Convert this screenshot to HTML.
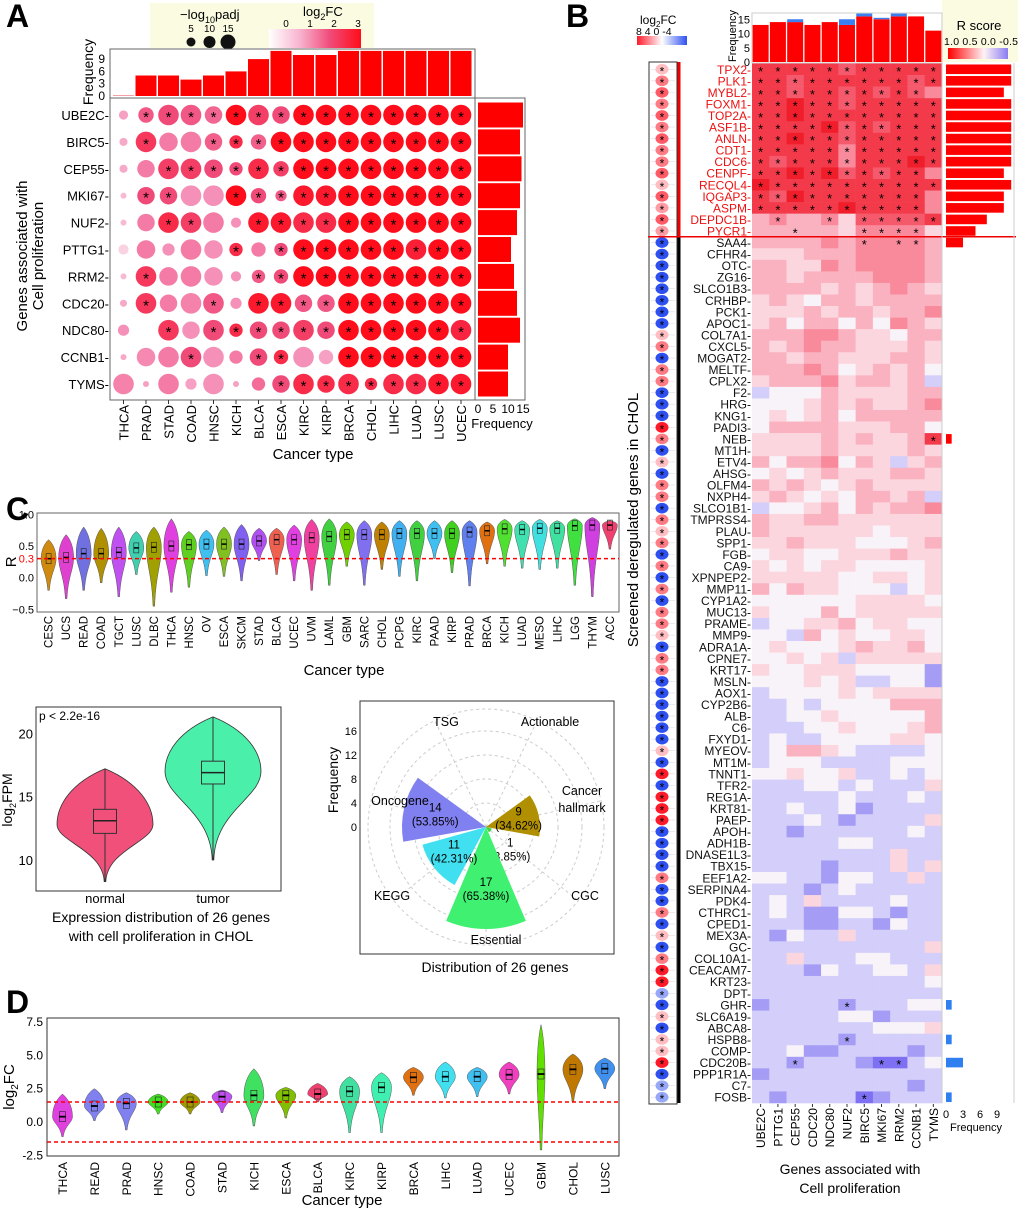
<!DOCTYPE html>
<html><head><meta charset="utf-8">
<style>
html,body{margin:0;padding:0;background:#fff;}
svg{display:block;font-family:"Liberation Sans",Arial,sans-serif;}
</style></head>
<body>
<svg id="fig" width="1020" height="1212" viewBox="0 0 1020 1212" xmlns="http://www.w3.org/2000/svg">
<text x="6" y="27" font-size="32" font-weight="bold">A</text>
<text x="566" y="27" font-size="32" font-weight="bold">B</text>
<text x="6" y="520" font-size="32" font-weight="bold">C</text>
<text x="6" y="1013" font-size="32" font-weight="bold">D</text>
</svg>
<script>
// ---------- Panel A data ----------
const catsA = ["THCA","PRAD","STAD","COAD","HNSC","KICH","BLCA","ESCA","KIRC","KIRP","BRCA","CHOL","LIHC","LUAD","LUSC","UCEC"];
const genesA = ["UBE2C","BIRC5","CEP55","MKI67","NUF2","PTTG1","RRM2","CDC20","NDC80","CCNB1","TYMS"];
const topFreqA = [0,5,5,4,5,6,9,11,10,10,11,11,11,11,11,11];
const rightFreqA = [15,14,14.5,14,13,11,12,13,14,10,10];
const sigA = [
 [4,10,15,15,12,15,15,12,15,15,15,15,15,15,15,15],
 [3,15,13,15,12,8,10,15,15,15,15,15,15,15,15,15],
 [3,12,15,15,13,8,15,10,15,15,15,15,15,15,15,15],
 [1,12,12,15,15,15,10,6,15,15,15,15,15,15,15,15],
 [1,12,15,15,15,5,15,15,15,15,15,15,15,15,15,15],
 [5,13,7,15,13,8,9,8,15,15,15,15,15,15,15,15],
 [1,15,13,15,13,5,8,9,15,15,15,15,15,15,15,15],
 [2,15,12,15,15,6,15,15,12,12,15,15,15,15,15,15],
 [6,0,15,12,15,8,12,12,15,12,15,15,15,15,15,15],
 [1,13,15,15,15,8,12,9,15,9,15,15,15,15,15,15],
 [15,1,15,6,15,1,8,12,15,12,15,7,15,15,15,15]];
const fcA = [
 [0.8,1.8,2,1.8,1.6,3,2.2,2,3,3,3,3,3,3,3,3],
 [0.7,2.3,1.3,1.3,1.7,2.5,1.7,3,3,3,3,3,3,3,3,3],
 [0.7,1.3,2.2,2.2,2,2,2.5,2.2,3,3,3,3,3,3,3,3],
 [0.5,2,2,1,1,3.2,2,1.8,2.8,2.8,3,3,3,3,3,3],
 [0.5,1.3,2.5,2.2,1.3,1,2.8,2.8,2.5,2.5,3,3,3,3,3,3],
 [0.2,1.3,1,1.3,1,2.5,1.3,2,3,3,3,3,3,2.7,3,3],
 [0.5,2.3,1.3,1.3,1,1,1.8,2,3,3,3,3,3,3,3,3],
 [0.7,2.3,1.3,1.2,1.8,1,2.8,2.8,1.8,1.8,3,3,3,3,3,3],
 [1,0,2.3,1,2,2.5,2,2,2.2,2,3,3,3,3,3,2.6],
 [0.7,1.1,1.3,2,1,1.3,2,2.5,1,0.8,3,3,3,3,3,3],
 [1.2,0.8,1.3,0.8,1,0.8,1.5,2,2.5,2.5,2.5,2.5,2.5,2.5,2.8,2.8]];
const starA = [
 ".***************",".*..************","..**************",".**..***********",
 "..**..**********",".....*.*********",".*....**********",".*..*.**********",
 "..*.************","...*..**..******",".......*********"];

// ---------- Panel B data ----------
const colsB = ["UBE2C","PTTG1","CEP55","CDC20","NDC80","NUF2","BIRC5","MKI67","RRM2","CCNB1","TYMS"];
const topRedB = [13,14,14,13,14,13,16,15,16,16,11];
const topBlueB = [0,0,1,0,0,2,1,0.5,1,0,0];
const genesB = ["TPX2","PLK1","MYBL2","FOXM1","TOP2A","ASF1B","ANLN","CDT1","CDC6","CENPF","RECQL4","IQGAP3","ASPM","DEPDC1B","PYCR1",
"SAA4","CFHR4","OTC","ZG16","SLCO1B3","CRHBP","PCK1","APOC1","COL7A1","CXCL5","MOGAT2","MELTF","CPLX2","F2","HRG","KNG1","PADI3","NEB","MT1H","ETV4","AHSG","OLFM4","NXPH4","SLCO1B1","TMPRSS4","PLAU","SPP1","FGB","CA9","XPNPEP2","MMP11","CYP1A2","MUC13","PRAME","MMP9","ADRA1A","CPNE7","KRT17","MSLN","AOX1","CYP2B6","ALB","C6","FXYD1","MYEOV","MT1M","TNNT1","TFR2","REG1A","KRT81","PAEP","APOH","ADH1B","DNASE1L3","TBX15","EEF1A2","SERPINA4","PDK4","CTHRC1","CPED1","MEX3A","GC","COL10A1","CEACAM7","KRT23","DPT","GHR","SLC6A19","ABCA8","HSPB8","COMP","CDC20B","PPP1R1A","C7","FOSB"];
const fcB = [2,4,5,4,5,4,5,4,4,5,2,5,3,5,3,
-4,-4,-4,-4,-4,-4,-4,-4,2,4,-4,4,4,-4,-4,-4,7,4,-4,2,-4,4,4,-4,4,2,4,-4,4,-4,4,-4,4,4,2,-4,4,4,-4,-4,-4,-4,-4,-4,2,-4,7,-4,7,7,7,-4,-4,-4,-4,4,-4,-4,4,-4,2,-4,4,7,7,-2,-4,2,-4,2,2,7,-4,-2,-2];
const heatB = ["88888788888","88788888878","88788787876","88988788888","88988888888","88889787888","88988788888","88888688888","87888688898","88989787886","98888888888","87988888886","88888988886","56556477778","55555466664",
"55556566665","44455566665","55446566665","55455556665","55554545654","45435545555","44454554556","45355353654","55566544355","54565544454","55455444554","55565345453","45556455452","23335444455","33345454456","34345355555","35555444553","44445454458","44445444454","53556354245","34345444554","54543454444","45434355452","23345354556","54455444444","54444443444","44544433345","34433444544","43434433334","44444334434","53544333234","33333344443","43335344444","23344534433","33253433443","34333454453","33434244444","43344433331","33343422331","23333434444","22323333555","22334333335","22233433345","23223333443","23554322223","23332222333","33433422323","22233232224","22222322232","22322312222","22232122224","22122222232","22222332222","22222222422","22221222424","33221332242","22212322222","23242222322","23211332122","22211221322","21322422222","22222222224","22422233222","22213223324","22222222223","22222222222","12222122233","22222331222","22222223334","22222122222","22311222212","22122210023","12222222222","22222222212","21222201222"];
const starB = {"TPX2":"***********","PLK1":"***********","MYBL2":"**********.","FOXM1":"***********","TOP2A":"***********","ASF1B":"***********","ANLN":"***********","CDT1":"***********","CDC6":"***********","CENPF":"**********.","RECQL4":"***********","IQGAP3":"**********.","ASPM":"**********.","DEPDC1B":".*..*.*****","PYCR1":"..*...****.","SAA4":"......*.**.","NEB":"..........*","GHR":".....*.....","HSPB8":".....*.....","CDC20B":"..*....**..","FOSB":"......*...."};
const rBarGenes = ["TPX2","PLK1","MYBL2","FOXM1","TOP2A","ASF1B","ANLN","CDT1","CDC6","CENPF","RECQL4","IQGAP3","ASPM","DEPDC1B","PYCR1","SAA4","NEB","GHR","HSPB8","CDC20B","FOSB"];
const rBarVals = [11.5,11.5,10.2,11.5,11.5,11.5,11.5,11.5,11.5,10.2,11.5,10.2,10.2,7.2,5.2,3,1,1,1,3,1];
const rBarNeg = [0,0,0,0,0,0,0,0,0,0,0,0,0,0,0,0,0,1,1,1,1];

// ---------- Panel C data ----------
const catsC = ["CESC","UCS","READ","COAD","TGCT","LUSC","DLBC","THCA","HNSC","OV","ESCA","SKCM","STAD","BLCA","UCEC","UVM","LAML","GBM","SARC","CHOL","PCPG","KIRC","PAAD","KIRP","PRAD","BRCA","KICH","LUAD","MESO","LIHC","LGG","THYM","ACC"];
const medC = [0.3,0.32,0.38,0.38,0.4,0.47,0.48,0.5,0.52,0.53,0.53,0.53,0.58,0.6,0.6,0.63,0.65,0.68,0.68,0.68,0.7,0.7,0.7,0.7,0.72,0.74,0.77,0.76,0.78,0.78,0.82,0.83,0.83];
const maxC = [0.6,0.68,0.8,0.78,0.8,0.73,0.8,0.93,0.73,0.75,0.8,0.84,0.78,0.78,0.83,0.92,0.93,0.88,0.9,0.88,0.9,0.9,0.9,0.9,0.9,0.88,0.92,0.9,0.92,0.9,0.93,0.95,0.9];
const minC = [-0.2,-0.33,-0.2,-0.08,-0.3,0.05,-0.45,-0.23,-0.15,0.03,0.02,-0.05,0.27,0.05,-0.05,-0.2,-0.12,0.18,-0.12,0.13,0.02,-0.05,0.3,0.08,-0.13,0.22,0.18,0.15,0.13,0.15,-0.12,-0.3,0.45];
const colC = ["#d08a10","#e040d0","#7070e0","#b09000","#c050f0","#40d0b0","#a0a000","#e040e0","#60d020","#40c0f0","#80c020","#8060f0","#b050f0","#f06050","#e040e0","#f040a0","#40d040","#70d000","#8070f0","#c08000","#40b0f0","#40d040","#40c0f0","#40d020","#6080f0","#e07010","#50e030","#40e0b0","#40e0e0","#40e0a0","#40e040","#d040e0","#f04070"];
const ticksC = [1.0,0.5,0.0,-0.5];
// expression violin
const groupsE = ["normal","tumor"];
const medE = [13.1,16.9], q1E=[12.1,16.0], q3E=[14.0,17.8], minE=[8.3,10.0], maxE=[17.2,21.3], modeE=[12.8,17.0];
const ticksE = [10,15,20];
// polar
const polarCats = ["Actionable","Cancer hallmark","CGC","Essential","KEGG","Oncogene","TSG"];
const polarVals = [0,9,1,17,11,14,0];
const polarPct = ["","34.62%","3.85%","65.38%","42.31%","53.85%",""];
const polarCol = ["#888","#b09000","#40d040","#40f070","#40e0f0","#8080f0","#888"];
const polarTicks = [0,4,8,12,16];

// ---------- Panel D data ----------
const catsD = ["THCA","READ","PRAD","HNSC","COAD","STAD","KICH","ESCA","BLCA","KIRC","KIRP","BRCA","LIHC","LUAD","UCEC","GBM","CHOL","LUSC"];
const medD = [0.4,1.2,1.4,1.5,1.5,1.9,2.0,2.0,2.1,2.3,2.6,3.35,3.4,3.4,3.55,3.6,3.95,4.0];
const minD = [-1.1,0.1,-0.6,0.6,0.6,0.7,-0.3,0.3,1.5,-0.8,-0.8,2.0,1.8,1.9,2.1,-2.1,1.5,2.5];
const maxD = [2.1,2.5,2.2,2.1,2.2,2.4,4.0,2.6,2.9,3.4,3.7,4.1,4.5,4.1,4.5,7.3,5.1,4.8];
const colD = ["#e040e0","#8080f0","#8080f0","#40e020","#a09a00","#c050f0","#40e060","#80c000","#f04070","#40e0a0","#40f0b0","#e07010","#40e0f0","#40c0f0","#f040c0","#60e000","#c07800","#4090f0"];
const ticksD = [7.5,5.0,2.5,0.0,-2.5];

// ---------- helpers ----------
const NS="http://www.w3.org/2000/svg";
const svg=document.getElementById('fig');
function mk(tag, attrs, parent){const e=document.createElementNS(NS,tag);for(const k in attrs)e.setAttribute(k,attrs[k]);(parent||svg).appendChild(e);return e;}
function txt(s, attrs, parent){const e=mk('text',attrs,parent);e.textContent=s;return e;}
function hex(c){return [parseInt(c.slice(1,3),16),parseInt(c.slice(3,5),16),parseInt(c.slice(5,7),16)];}
function lerpC(a,b,t){const A=hex(a),B=hex(b);return 'rgb('+A.map((v,i)=>Math.round(v+(B[i]-v)*t)).join(',')+')';}
function fcColA(v){const st=['#fbe4ee','#f590b8','#f04a78','#ff0d1a'];v=Math.max(0,Math.min(3,v));const i=Math.min(2,Math.floor(v));return lerpC(st[i],st[i+1],v-i);}
const heatPal=['#7d70f2','#a59cf5','#d3cefa','#f8f3f8','#fcd6de','#fab2c0','#f88a9c','#f55a6c','#f33a4a','#f01e2a'];
function fcColB(v){if(v>=0){return lerpC('#ffffff','#ff1a2a',Math.min(1,v/7));}return lerpC('#ffffff','#2f50f0',Math.min(1,-v/4));}
function violinPath(cx,t,m,b,hw){
 return `M${cx},${t} C${cx+hw*0.7},${t+(m-t)*0.25} ${cx+hw},${m-(m-t)*0.35} ${cx+hw},${m} C${cx+hw},${m+(b-m)*0.3} ${cx+2},${m+(b-m)*0.45} ${cx+0.8},${b} L${cx-0.8},${b} C${cx-2},${m+(b-m)*0.45} ${cx-hw},${m+(b-m)*0.3} ${cx-hw},${m} C${cx-hw},${m-(m-t)*0.35} ${cx-hw*0.7},${t+(m-t)*0.25} ${cx},${t} Z`;
}

// ================= PANEL A =================
const axA={x0:110,x1:475,y0:98,y1:400};
function xA(i){return 123.5+i*22.5;}
function yA(j){return 115+j*26.9;}
function yTopA(v){return 96-v*4.1;}
function xRightA(v){return 478+v*3;}
let e;
e=mk('rect',{x:150,y:3,width:224,height:45,fill:'#fafbe0'});


e=txt('−log',{x:180,y:19,'font-size':13});


mk('tspan',{'font-size':9,dy:4},e).textContent='10';
mk('tspan',{'font-size':13,dy:-4},e).textContent='padj';
[5,10,15].forEach((v,k)=>{
 const cx=191+k*18.5;
 e=txt(String(v),{x:cx,y:32,'font-size':10,'text-anchor':'middle'});
 
 
 e=mk('circle',{cx:cx,cy:42,r:3+v*0.3,fill:'#111'});
 
 
});
e=txt('log',{x:303,y:16,'font-size':13});


mk('tspan',{'font-size':9,dy:4},e).textContent='2';
mk('tspan',{'font-size':13,dy:-4},e).textContent='FC';
const defs=mk('defs',{});
let g=mk('linearGradient',{id:'gA',x1:0,x2:1,y1:0,y2:0},defs);
['#ffffff','#f8b4cf','#f04a78','#ff0d1a'].forEach((c,k)=>mk('stop',{offset:k/3,'stop-color':c},g));
e=mk('rect',{x:269,y:29,width:92,height:19,fill:'url(#gA)'});


[0,1,2,3].forEach(v=>{e=txt(String(v),{x:286+v*24,y:27,'font-size':10,'text-anchor':'middle'});
 
 });
e=mk('rect',{x:axA.x0,y:49,width:axA.x1-axA.x0,height:49,fill:'none',stroke:'#666'});


topFreqA.forEach((v,i)=>{
 const h=Math.max(1,96-yTopA(v));
 e=mk('rect',{x:xA(i)-10.5,y:96-h,width:21,height:h,fill:v>0?'#ff0000':'#f6a0a8'});
 
 
});
[0,3,6,9].forEach(v=>{e=txt(String(v),{x:105,y:yTopA(v)+4,'font-size':12,'text-anchor':'end'});
 
 });
e=txt('Frequency',{x:0,y:0,'font-size':14,'text-anchor':'middle',transform:'translate(93,72) rotate(-90)'});


e=mk('rect',{x:axA.x0,y:axA.y0,width:axA.x1-axA.x0,height:axA.y1-axA.y0,fill:'#fff',stroke:'#666'});


genesA.forEach((gname,j)=>{
 e=txt(gname+'-',{x:axA.x0-1,y:yA(j)+5,'font-size':13,'text-anchor':'end'});
 
 
 catsA.forEach((c,i)=>{
  const s=sigA[j][i]; if(s<=0) return;
  e=mk('circle',{cx:xA(i),cy:yA(j),r:2.5+s*0.52,fill:fcColA(fcA[j][i])});
  
  
  if(starA[j][i]==='*'){e=txt('*',{x:xA(i),y:yA(j)+7,'font-size':15,'text-anchor':'middle'});
   
   }
 });
});
catsA.forEach((c,i)=>{
 e=txt(c,{x:0,y:0,'font-size':13,'text-anchor':'end',transform:`translate(${xA(i)+5},405) rotate(-90)`});
 
 
 mk('line',{x1:xA(i),x2:xA(i),y1:400,y2:404,stroke:'#333'});
});
e=txt('Cancer type',{x:313,y:459,'font-size':15,'text-anchor':'middle'});


e=txt('Genes associated with',{x:0,y:0,'font-size':15,'text-anchor':'middle',transform:'translate(27,256) rotate(-90)'});


e=txt('Cell proliferation',{x:0,y:0,'font-size':15,'text-anchor':'middle',transform:'translate(43,256) rotate(-90)'});


e=mk('rect',{x:475,y:98,width:50,height:302,fill:'none',stroke:'#666'});


rightFreqA.forEach((v,j)=>{
 e=mk('rect',{x:xRightA(0),y:yA(j)-12.5,width:xRightA(v)-xRightA(0),height:25,fill:'#ff0000'});
 
 
});
[0,5,10,15].forEach(v=>{e=txt(String(v),{x:xRightA(v),y:413,'font-size':12,'text-anchor':'middle'});
 
 });
e=txt('Frequency',{x:502,y:428,'font-size':13,'text-anchor':'middle'});



// ================= PANEL B =================
const hx0=752, cw=17.27, hy0=63.5, rh=11.55;
function xB(i){return hx0+cw*(i+0.5);}
function yB(j){return hy0+rh*(j+0.5);}
function yTopB(v){return 62-v*2.85;}
function xRB(v){return 946+v*5.67;}
e=txt('log',{x:640,y:24,'font-size':12});


mk('tspan',{'font-size':8,dy:3},e).textContent='2';
mk('tspan',{'font-size':12,dy:-3},e).textContent='FC';
g=mk('linearGradient',{id:'gB',x1:0,x2:1,y1:0,y2:0},defs);
[['0','#ff1a2a'],['0.5','#ffffff'],['1','#2f50f0']].forEach(s=>mk('stop',{offset:s[0],'stop-color':s[1]},g));
e=mk('rect',{x:637,y:36,width:50,height:9,fill:'url(#gB)'});


e=txt('8  4  0 -4',{x:636,y:35,'font-size':10.5});


e=mk('rect',{x:942,y:0,width:76,height:62,fill:'#fafbe0'});


e=txt('R score',{x:979,y:30,'font-size':13,'text-anchor':'middle'});


e=txt('1.0 0.5 0.0 -0.5',{x:944,y:45,'font-size':10.5,textLength:74});


g=mk('linearGradient',{id:'gR',x1:0,x2:1,y1:0,y2:0},defs);
[['0','#ff0000'],['0.6','#fff2f5'],['1','#8a7cf2']].forEach(s=>mk('stop',{offset:s[0],'stop-color':s[1]},g));
e=mk('rect',{x:948,y:48,width:60,height:11,fill:'url(#gR)'});


e=mk('rect',{x:hx0,y:13,width:cw*11,height:50,fill:'none',stroke:'#ccc'});


colsB.forEach((c,i)=>{
 e=mk('rect',{x:xB(i)-8,y:yTopB(topRedB[i]),width:16,height:62-yTopB(topRedB[i]),fill:'#ff0000'});
 
 
 if(topBlueB[i]>0){e=mk('rect',{x:xB(i)-8,y:yTopB(topRedB[i]+topBlueB[i]),width:16,height:topBlueB[i]*2.85,fill:'#3a7ff0'});
  
  }
});
[0,5,10,15].forEach(v=>{e=txt(String(v),{x:750,y:yTopB(v)+4,'font-size':11,'text-anchor':'end'});
 
 });
e=txt('Frequency',{x:0,y:0,'font-size':11,'text-anchor':'middle',transform:'translate(736,36) rotate(-90)'});


e=mk('rect',{x:649,y:62,width:28,height:hy0+rh*90-62+1,fill:'#fff',stroke:'#333'});


e=mk('rect',{x:677.5,y:62,width:3,height:yB(14)+rh/2-62,fill:'#e00'});


e=mk('rect',{x:677.5,y:yB(15)-rh/2,width:3,height:rh*75,fill:'#000'});


genesB.forEach((gn,j)=>{
 const row=heatB[j].split('').map(Number);
 row.forEach((d,i)=>{
  e=mk('rect',{x:hx0+cw*i,y:hy0+rh*j,width:cw+0.3,height:rh+0.3,fill:heatPal[d]});
  
  
 });
 const st=starB[gn];
 if(st){st.split('').forEach((s,i)=>{if(s==='*'){e=txt('*',{x:xB(i),y:yB(j)+6.5,'font-size':13,'text-anchor':'middle'});
  
  }});}
 e=txt(gn+'-',{x:751,y:yB(j)+4.5,'font-size':12,'text-anchor':'end',fill:j<15?'#ee1111':'#111'});
 
 
 mk('line',{x1:651,x2:675,y1:yB(j),y2:yB(j),stroke:'#ddd','stroke-width':0.6});
 e=mk('ellipse',{cx:662,cy:yB(j),rx:6.5,ry:5.3,fill:fcColB(fcB[j])});
 
 
 e=txt('*',{x:662,y:yB(j)+6,'font-size':12,'text-anchor':'middle'});
 
 
});
e=mk('line',{x1:648,x2:1016,y1:hy0+rh*15,y2:hy0+rh*15,stroke:'#e00','stroke-width':1.5});


e=mk('line',{x1:1014,x2:1014,y1:63,y2:hy0+rh*90,stroke:'#ccc'});


e=mk('line',{x1:942,x2:942,y1:63,y2:hy0+rh*90,stroke:'#ccc'});


rBarGenes.forEach((gn,k)=>{
 const j=genesB.indexOf(gn);
 e=mk('rect',{x:xRB(0),y:yB(j)-4.8,width:xRB(rBarVals[k])-xRB(0),height:9.6,fill:rBarNeg[k]?'#2f7ff0':'#ff0000'});
 
 
});
[0,3,6,9].forEach(v=>{e=txt(String(v),{x:xRB(v),y:1118,'font-size':11,'text-anchor':'middle'});
 
 });
e=txt('Frequency',{x:976,y:1131,'font-size':11,'text-anchor':'middle'});


colsB.forEach((c,i)=>{
 e=txt(c,{x:0,y:0,'font-size':12,'text-anchor':'end',transform:`translate(${xB(i)+4.5},1108) rotate(-90)`});
 
 
 mk('line',{x1:xB(i),x2:xB(i),y1:1104,y2:1107,stroke:'#333'});
});
e=txt('Genes associated with',{x:850,y:1174,'font-size':14,'text-anchor':'middle'});


e=txt('Cell proliferation',{x:850,y:1193,'font-size':14,'text-anchor':'middle'});


e=txt('Screened deregulated genes in CHOL',{x:0,y:0,'font-size':15,'text-anchor':'middle',transform:'translate(638,520) rotate(-90)'});



// ================= PANEL C (top violins) =================
function xC(i){return 48.6+i*17.54;}
function yC(v){return 577.7-v*63.4;}
e=mk('rect',{x:37,y:513,width:582,height:99,fill:'#fff',stroke:'#666'});


ticksC.forEach(v=>{e=txt(v.toFixed(1).replace('-','−'),{x:34,y:yC(v)+4,'font-size':11,'text-anchor':'end'});
 
 });
e=txt('0.3',{x:34,y:yC(0.3)+4,'font-size':11,'text-anchor':'end',fill:'#f00'});


e=txt('R',{x:0,y:0,'font-size':15,'text-anchor':'middle',transform:`translate(16,${yC(0.25)}) rotate(-90)`});


catsC.forEach((c,i)=>{
 const cx=xC(i);
 e=mk('path',{d:violinPath(cx,yC(maxC[i]),yC(medC[i]),yC(minC[i]),7.5),fill:colC[i],stroke:'#555','stroke-width':0.5});
 
 
 e=mk('rect',{x:cx-2.5,y:yC(medC[i])-5,width:5,height:10,fill:'none',stroke:'#222','stroke-width':0.6});
 
 
 mk('line',{x1:cx-2.5,x2:cx+2.5,y1:yC(medC[i]),y2:yC(medC[i]),stroke:'#000','stroke-width':1.5});
 e=txt(c,{x:0,y:0,'font-size':11.5,'text-anchor':'end',transform:`translate(${cx+4},616) rotate(-90)`});
 
 
});
e=mk('line',{x1:37,x2:619,y1:yC(0.3),y2:yC(0.3),stroke:'#f00','stroke-width':1.5,'stroke-dasharray':'4,3'});


e=txt('Cancer type',{x:344,y:675,'font-size':15,'text-anchor':'middle'});



// ---- expression violin ----
function yE(v){return 860-(v-10)*12.67;}
function xE(i){return [105,213][i];}
e=mk('rect',{x:36,y:707,width:245,height:184,fill:'#fff',stroke:'#333'});


const colE=['#f0507a','#4af0aa'];
groupsE.forEach((gname,i)=>{
 const cx=xE(i);
 e=mk('path',{d:violinPath(cx,yE(maxE[i]),yE(modeE[i]),yE(minE[i]),48),fill:colE[i],stroke:'#333','stroke-width':0.8});
 
 
 mk('line',{x1:cx,x2:cx,y1:yE(maxE[i]),y2:yE(minE[i]),stroke:'#333'});
 e=mk('rect',{x:cx-11.5,y:yE(q3E[i]),width:23,height:yE(q1E[i])-yE(q3E[i]),fill:colE[i],stroke:'#333'});
 
 
 mk('line',{x1:cx-11.5,x2:cx+11.5,y1:yE(medE[i]),y2:yE(medE[i]),stroke:'#222','stroke-width':1.5});
 e=txt(gname,{x:cx,y:903,'font-size':13,'text-anchor':'middle'});
 
 
});
ticksE.forEach(v=>{e=txt(String(v),{x:33,y:yE(v)+5,'font-size':13,'text-anchor':'end'});
 
 });
e=txt('p < 2.2e-16',{x:39,y:720,'font-size':12});


e=txt('log',{x:0,y:0,'font-size':14,'text-anchor':'middle',transform:'translate(12,800) rotate(-90)'});


mk('tspan',{'font-size':9,dy:4},e).textContent='2';
mk('tspan',{'font-size':14,dy:-4},e).textContent='FPM';
e=txt('Expression distribution of 26 genes',{x:161,y:922,'font-size':14,'text-anchor':'middle'});


e=txt('with cell proliferation in CHOL',{x:161,y:941,'font-size':14,'text-anchor':'middle'});



// ---- polar chart ----
const pcx=486,pcy=827,pscale=6;
e=mk('rect',{x:360,y:701,width:254,height:253,fill:'#fff',stroke:'#333'});


[24,48,72,96,118].forEach(r=>mk('circle',{cx:pcx,cy:pcy,r:r,fill:'none',stroke:'#ccc','stroke-dasharray':'3,3'}));
polarCats.forEach((c,k)=>{
 const a=(k*360/7+360/14)*Math.PI/180;
 mk('line',{x1:pcx,y1:pcy,x2:pcx+Math.sin(a)*118,y2:pcy-Math.cos(a)*118,stroke:'#ccc','stroke-dasharray':'3,3'});
});
function sector(k,v){
 const c=(k*360/7+360/14), a0=(c-23)*Math.PI/180, a1=(c+23)*Math.PI/180, r=v*pscale;
 return `M${pcx},${pcy} L${pcx+Math.sin(a0)*r},${pcy-Math.cos(a0)*r} A${r},${r} 0 0 1 ${pcx+Math.sin(a1)*r},${pcy-Math.cos(a1)*r} Z`;
}
const lblPos=[[550,726],[582,800],[585,900],[496,944],[392,900],[400,805],[446,726]];
polarCats.forEach((c,k)=>{
 if(polarVals[k]>0){e=mk('path',{d:sector(k,polarVals[k]),fill:polarCol[k]});
  
  
  const cA=(k*360/7+360/14)*Math.PI/180, rr=Math.max(polarVals[k]*pscale*0.62,31);
  const lx=pcx+Math.sin(cA)*rr, ly=pcy-Math.cos(cA)*rr-(polarVals[k]<5?0:4);
  e=txt(String(polarVals[k]),{x:lx,y:ly,'font-size':11.5,'text-anchor':'middle'});
  
  
  e=txt('('+polarPct[k]+')',{x:lx,y:ly+14,'font-size':11.5,'text-anchor':'middle'});
  
  }
 const p=lblPos[k];
 if(c==='Cancer hallmark'){
  e=txt('Cancer',{x:p[0],y:p[1]-5,'font-size':12.5,'text-anchor':'middle'});
  
  
  e=txt('hallmark',{x:p[0],y:p[1]+12,'font-size':12.5,'text-anchor':'middle'});
  
  
 } else {
  e=txt(c,{x:p[0],y:p[1],'font-size':12.5,'text-anchor':'middle'});
  
  
 }
});
polarTicks.forEach(v=>{e=txt(String(v),{x:357,y:pcy-v*pscale+4,'font-size':11,'text-anchor':'end'});
 
 });
e=txt('Frequency',{x:0,y:0,'font-size':14,'text-anchor':'middle',transform:'translate(338,780) rotate(-90)'});


e=txt('Distribution of 26 genes',{x:495,y:972,'font-size':14,'text-anchor':'middle'});



// ================= PANEL D =================
function xD(i){return 62.5+i*31.9;}
function yD(v){return 1122-v*13.33;}
e=mk('rect',{x:47,y:1018,width:572,height:138,fill:'#fff',stroke:'#333'});


ticksD.forEach(v=>{e=txt(v.toFixed(1),{x:43,y:yD(v)+4,'font-size':12,'text-anchor':'end'});
 
 });
e=txt('log',{x:0,y:0,'font-size':15,'text-anchor':'middle',transform:'translate(14,1087) rotate(-90)'});


mk('tspan',{'font-size':10,dy:4},e).textContent='2';
mk('tspan',{'font-size':15,dy:-4},e).textContent='FC';
catsD.forEach((c,i)=>{
 const cx=xD(i);
 e=mk('path',{d:violinPath(cx,yD(maxD[i]),yD(medD[i]),yD(minD[i]),c==='GBM'?4:10),fill:colD[i],stroke:'#555','stroke-width':0.5});
 
 
 e=mk('rect',{x:cx-3,y:yD(medD[i])-5,width:6,height:10,fill:'none',stroke:'#222','stroke-width':0.6});
 
 
 mk('line',{x1:cx-3.5,x2:cx+3.5,y1:yD(medD[i]),y2:yD(medD[i]),stroke:'#000','stroke-width':1.8});
 e=txt(c,{x:0,y:0,'font-size':12,'text-anchor':'end',transform:`translate(${cx+4.5},1162) rotate(-90)`});
 
 
});
[1.5,-1.5].forEach(v=>{e=mk('line',{x1:47,x2:619,y1:yD(v),y2:yD(v),stroke:'#f00','stroke-width':1.5,'stroke-dasharray':'4,3'});
 
 });
e=txt('Cancer type',{x:342,y:1205,'font-size':15,'text-anchor':'middle'});


</script>
</body></html>
